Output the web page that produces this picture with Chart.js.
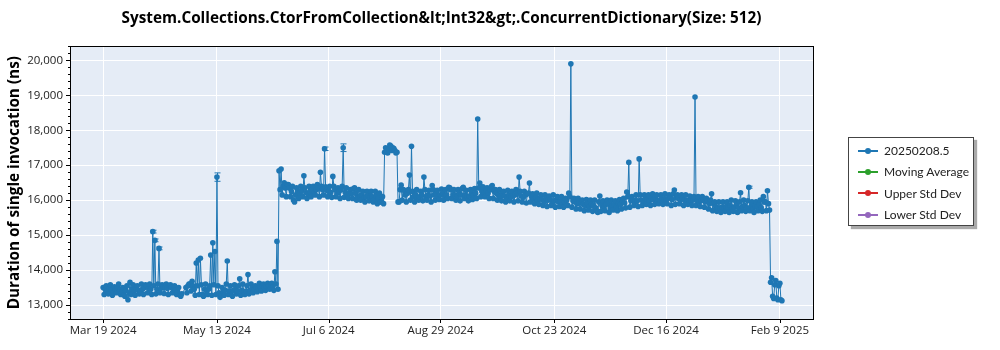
<!DOCTYPE html>
<html>
<head>
<meta charset="utf-8">
<script src="https://cdn.jsdelivr.net/npm/chart.js@4"></script>
<style>
  body { margin: 0; background: #fff; }
  #wrap { position: relative; width: 1000px; height: 350px; }
  #legend {
    position: absolute; left: 848px; top: 137px; width: 126px; height: 89px;
    border: 1px solid #444; background: #fff; box-shadow: 3px 3px 1px #aaa;
    font: 12px Lato, sans-serif; color: #222; box-sizing: border-box; padding-top: 2px;
  }
  .item { height: 21.3px; display: flex; align-items: center; white-space: nowrap; }
  .swatch { position: relative; width: 20px; height: 2px; margin: 0 6px 0 9px; }
  .swatch i { position: absolute; left: 7px; top: -2px; width: 6px; height: 6px; border-radius: 3px; }
</style>
</head>
<body>
<div id="wrap">
  <canvas id="chart" width="1000" height="350"></canvas>
  <div id="legend"></div>
</div>
<script>
// first run of each day, day 0 = Mar 19 2024
const dayValues = [
  13500, 13450, 13400, 13480, 13420, 13350, 13450, 13500, 13420, 13380,
  13300, 13420, 13150, 13650, 13450, 13400, 13480, 13420, 13380, 13450,
  13500, 13550, 13480, 13450, 15100, 14850, 13450, 14620, 13480, 13520,
  13500, 13480, 13550, 13500, 13450, 13420, 13380, 13300, 13320, null,
  13500, 13550, 13600, 13680, 13450, 14200, 14290, 14340, 13300, 13450,
  13400, 13450, 14430, 14780, 14530, 16660, 13350, 13300, 13380, 13420,
  14260, 13400, 13380, 13420, 13450, 13400, 13750, 13420, 13380, 13400,
  13870, 13420, 13480, 13450, 13500, 13480, 13520, 13550, 13500, 13530,
  13550, 13580, 13520, 13950, 14820, 16840, 16890, 16400, 16350, 16450,
  16350, 16250, 16000, 16150, 16250, 16200, 16280, 16700, 16220, 16180,
  16250, 16280, 16200, 16300, 16350, 16800, 16300, 17470, 16280, 16250,
  16220, 16680, 16300, 16200, 16250, 16300, 17500, 16220, 16150, 16200,
  16180, 16330, 16200, 16100, 16120, 16150, 16050, 16100, 16150, 16080,
  16100, 16000, 16120, 16050, 15950, 16100, 17370, 17400, 17450, 17550,
  17500, 17420, 17370, 15950, 16430, 16300, 16150, 16200, 16720, 17540,
  16100, 16150, 16050, 16100, 16150, 16660, 16100, 16150, 16120, 16420,
  16150, 16200, 16100, 16150, 16200, 16120, 16150, 16370, 16300, 16150,
  16150, 16100, 16200, 16150, 16370, 16150, 16100, 16120, 16200, 16150,
  16200, 18320, 16490, 16250, 16200, 16280, 16200, 16300, 16420, 16250,
  16200, 16150, 16100, 16180, 16120, 16050, 16150, 16100, 16120, 16150,
  16200, 16660, 16120, 16080, 16150, 16180, 16490, 16100, 16050, 16080,
  16000, 16050, 16020, 15950, 16050, 16000, 16020, 15900, 15980, 16000,
  15950, 15980, 15850, 15950, 16000, 16200, 19900, 15980, 15950, 15900,
  15920, 15950, 15880, 15850, 15900, 15820, 15880, 15850, 15780, 15650,
  16120, 15850, 15800, 15880, 15900, 15780, 15850, 15880, 15800, 15900,
  15880, 15950, 15920, 16230, 17080, 15980, 16000, 15950, 15980, 17180,
  16000, 15980, 16050, 16020, 15980, 16050, 16020, 16050, 15980, 16000,
  16050, 16020, 15980, 16050, 16080, 16020, 16290, 16080, 16050, 16020,
  16050, 16000, 15980, 16000, 15980, 16000, 18950, 15980, 15950, 15980,
  16000, 15950, 15980, 15900, 16180, 15900, 15820, 15780, 15750, 15800,
  15750, 15820, 15780, 15850, 15750, 15800, 15880, 15780, 16210, 15820,
  15850, 15780, 16370, 15820, 15750, 15850, 15800, 15880, 15780, 16100,
  15950, 16270, 15720, 13780, 13190, 13700, 13150, 13620, 13120
];

// second run of each day (half a day later)
const midValues = [
  13300, 13550, 13320, 13580, 13280, 13520, 13350, 13600, 13300, 13500,
  13250, 13550, 13350, 13300, 13580, 13280, 13550, 13320, 13600, 13300,
  13580, 13350, 13600, 13300, 13550, 13320, 13600, 13350, 13580, 13330,
  13600, 13300, 13580, 13350, 13550, 13300, 13500, 13250, null, null,
  13350, 13600, 13400, 13550, 13280, 13550, 13300, 13580, 13250, 13600,
  13300, 13550, 13280, 13580, 13300, 13550, 13220, 13500, 13280, 13600,
  13300, 13550, 13250, 13580, 13320, 13550, 13280, 13600, 13300, 13550,
  13320, 13600, 13350, 13550, 13380, 13620, 13400, 13600, 13420, 13620,
  13450, 13620, 13420, 13600, 13450, 16300, 16150, 16500, 16100, 16450,
  16100, 16400, 15950, 16350, 16050, 16400, 16100, 16350, 16050, 16400,
  16100, 16400, 16150, 16450, 16100, 16400, 16150, 16380, 16100, 16400,
  16080, 16400, 16100, 16350, 16050, 16400, 16080, 16350, 16050, 16300,
  16050, 16350, 16000, 16300, 16000, 16250, 15950, 16250, 15980, 16250,
  15950, 16250, 15900, 16200, 15950, 15900, 17500, 17350, 17580, 17420,
  17480, 17350, 15950, 16300, 16000, 16280, 15950, 16300, 16000, 16250,
  15950, 16300, 16000, 16250, 15980, 16300, 16000, 16280, 15950, 16300,
  16000, 16280, 16020, 16320, 16000, 16300, 16050, 16350, 16050, 16300,
  16000, 16300, 15980, 16330, 16050, 16280, 15980, 16300, 16020, 16330,
  16050, 16350, 16100, 16380, 16100, 16350, 16050, 16380, 16050, 16300,
  16000, 16300, 15980, 16250, 15950, 16280, 15980, 16250, 15950, 16300,
  15980, 16250, 15950, 16250, 15920, 16200, 15950, 16180, 15900, 16200,
  15880, 16150, 15850, 16150, 15820, 16120, 15850, 16150, 15800, 16100,
  15820, 16100, 15800, 16050, 15850, 16100, 15800, 16050, 15750, 16050,
  15750, 16000, 15700, 16020, 15720, 16000, 15680, 16000, 15700, 15950,
  15680, 15980, 15700, 16000, 15650, 16000, 15720, 15980, 15700, 16020,
  15750, 16050, 15780, 16100, 15800, 16100, 15850, 16150, 15820, 16150,
  15850, 16150, 15880, 16150, 15850, 16180, 15880, 16150, 15900, 16150,
  15880, 16180, 15900, 16150, 15850, 16180, 15880, 16150, 15900, 16150,
  15850, 16150, 15880, 16120, 15850, 16100, 15850, 16100, 15820, 16100,
  15800, 16050, 15750, 16000, 15700, 15950, 15680, 15950, 15650, 15950,
  15680, 15950, 15650, 16000, 15680, 15980, 15650, 15950, 15700, 16000,
  15680, 15980, 15700, 15950, 15650, 15950, 15700, 16000, 15680, 15950,
  15700, 15900, 13650, 13250, 13580, 13200, 13550, 13150
];

const errorDays = [24, 25, 27, 55, 107, 116, 312];
const errorSizes = [40, 40, 40, 120, 50, 110, 30];

const tickDays = [0, 55, 109, 163, 218, 272, 327];
const tickLabels = ["Mar 19 2024", "May 13 2024", "Jul 6 2024", "Aug 29 2024", "Oct 23 2024", "Dec 16 2024", "Feb 9 2025"];

const seriesLabels = ["20250208.5", "Moving Average", "Upper Std Dev", "Lower Std Dev"];
const seriesColors = ["#1f77b4", "#2ca02c", "#d62728", "#9467bd"];

const points = [];
dayValues.forEach((v, i) => {
  if (v !== null) points.push({ x: i, y: v });
  if (i < midValues.length && midValues[i] !== null) points.push({ x: i + 0.5, y: midValues[i] });
});

Chart.defaults.font.family = "'Open Sans', sans-serif";
Chart.defaults.color = "#222";

const plotDecor = {
  id: "plotDecor",
  beforeDraw(chart) {
    const a = chart.chartArea, c = chart.ctx;
    c.save();
    c.fillStyle = "#e5ecf6";
    c.fillRect(a.left, a.top, a.right - a.left, a.bottom - a.top);
    c.restore();
  },
  afterDatasetsDraw(chart) {
    const c = chart.ctx, xs = chart.scales.x, ys = chart.scales.y;
    c.save();
    c.strokeStyle = seriesColors[0];
    c.lineWidth = 1;
    errorDays.forEach((d, i) => {
      const v = dayValues[d];
      const px = Math.round(xs.getPixelForValue(d)) + 0.5;
      const top = ys.getPixelForValue(v + errorSizes[i]);
      const bot = ys.getPixelForValue(v - errorSizes[i]);
      c.beginPath();
      c.moveTo(px, top); c.lineTo(px, bot);
      c.moveTo(px - 3, top); c.lineTo(px + 3, top);
      c.moveTo(px - 3, bot); c.lineTo(px + 3, bot);
      c.stroke();
    });
    c.restore();
  },
  afterDraw(chart) {
    const a = chart.chartArea, c = chart.ctx, ys = chart.scales.y, xs = chart.scales.x;
    c.save();
    c.strokeStyle = "#000";
    c.lineWidth = 1;
    c.strokeRect(Math.round(a.left) + 0.5, Math.round(a.top) + 0.5, Math.round(a.right - a.left), Math.round(a.bottom - a.top));
    c.beginPath();
    for (let v = ys.min; v <= ys.max; v += 200) {
      const py = Math.round(ys.getPixelForValue(v)) + 0.5;
      const len = v % 1000 === 0 ? 4 : 2;
      c.moveTo(a.left - len, py); c.lineTo(a.left, py);
    }
    tickDays.forEach(d => {
      const px = Math.round(xs.getPixelForValue(d)) + 0.5;
      c.moveTo(px, a.bottom); c.lineTo(px, a.bottom + 4);
    });
    c.stroke();
    c.restore();
  }
};

const chart = new Chart(document.getElementById("chart"), {
  type: "line",
  data: {
    datasets: seriesLabels.map((label, i) => ({
      label: label,
      data: i === 0 ? points : [],
      borderColor: seriesColors[i],
      backgroundColor: seriesColors[i],
      borderWidth: 1,
      pointRadius: 2.8,
      pointHoverRadius: 2.8,
      pointBorderWidth: 0,
      spanGaps: true,
      tension: 0
    }))
  },
  options: {
    responsive: false,
    animation: false,
    layout: { padding: { left: 0, right: 187, top: 0, bottom: 0 } },
    plugins: {
      legend: { display: false },
      tooltip: { enabled: false },
      title: {
        display: true,
        fullSize: false,
        text: "System.Collections.CtorFromCollection&lt;Int32&gt;.ConcurrentDictionary(Size: 512)",
        color: "#000",
        font: { size: 15.3, weight: "bold" },
        padding: { top: 9, bottom: 19 }
      }
    },
    scales: {
      x: {
        type: "linear",
        min: -16,
        max: 343,
        afterBuildTicks: s => { s.ticks = tickDays.map(v => ({ value: v })); },
        afterFit: s => { s.height = 31; },
        grid: { color: "#fff", lineWidth: 1, drawTicks: false },
        border: { display: false },
        ticks: {
          autoSkip: false, maxRotation: 0, padding: 5,
          font: { size: 11.5 },
          callback: v => tickLabels[tickDays.indexOf(v)]
        }
      },
      y: {
        min: 12600,
        max: 20400,
        afterFit: s => { s.width = 70; },
        grid: {
          color: c => (c.tick && c.tick.value % 1000 === 0 ? "#fff" : "rgba(0,0,0,0)"),
          lineWidth: 1, drawTicks: false
        },
        border: { display: false },
        ticks: {
          stepSize: 200, autoSkip: false, padding: 7,
          font: { size: 11.5 },
          callback: v => (v % 1000 === 0 ? v.toLocaleString("en-US") : "")
        },
        title: {
          display: true,
          text: "Duration of single invocation (ns)",
          color: "#000",
          font: { size: 15.3, weight: "bold" },
          padding: { top: 5, bottom: 0 }
        }
      }
    }
  },
  plugins: [plotDecor]
});

const legend = document.getElementById("legend");
chart.data.datasets.forEach(ds => {
  const row = document.createElement("div");
  row.className = "item";
  row.innerHTML = `<span class="swatch" style="background:${ds.borderColor}"><i style="background:${ds.borderColor}"></i></span>${ds.label}`;
  legend.appendChild(row);
});
</script>
</body>
</html>
